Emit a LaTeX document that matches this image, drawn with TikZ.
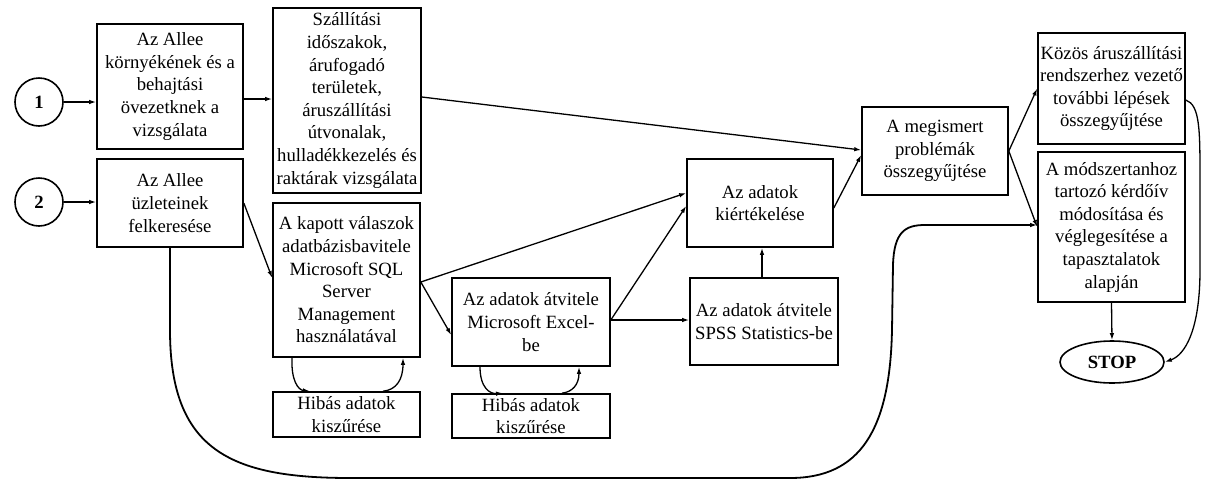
\documentclass[tikz,border=0pt]{standalone}
\usepackage{fontspec}
\setmainfont{Liberation Serif}
\newfontfamily\tnr{Liberation Serif}
\usetikzlibrary{arrows.meta,shapes.geometric}
\begin{document}
\begin{tikzpicture}[x=1pt,y=1pt,
  txt/.style={font=\tnr\fontsize{18.7pt}{22.6pt}\selectfont},
  box/.style={draw, line width=1.6pt, inner sep=0pt, align=center, txt},
  startc/.style={circle, draw, line width=1.6pt, minimum size=48pt, inner sep=0pt, font=\tnr\fontsize{18.7pt}{22.6pt}\selectfont\bfseries},
  conn/.style={line width=1.3pt, -{Latex[length=7pt,width=4.5pt]}},
  bigconn/.style={line width=1.8pt, -{Latex[length=7pt,width=4.5pt]}}]
\fill[white] (0,0) rectangle (1208,-483);
\useasboundingbox (0,0) rectangle (1208,-483);

% start circles
\node[startc] (c1) at (39,-102) {1};
\node[startc] (c2) at (39,-202) {2};

% boxes
\node[box, minimum width=146pt, minimum height=125pt] (A1) at (170,-86.5)
  {Az Allee\\környékének és a\\behajtási\\övezetknek a\\vizsgálata};
\node[box, minimum width=146pt, minimum height=88pt] (A2) at (170,-203)
  {Az Allee\\üzleteinek\\felkeresése};
\node[box, minimum width=148pt, minimum height=185pt] (B1) at (347,-100.5)
  {Szállítási\\időszakok,\\árufogadó\\területek,\\áruszállítási\\útvonalak,\\hulladékkezelés és\\raktárak vizsgálata};
\node[box, minimum width=147pt, minimum height=154pt] (B2) at (346.5,-280)
  {A kapott válaszok\\adatbázisbavitele\\Microsoft SQL\\Server\\Management\\használatával};
\node[box, minimum width=147pt, minimum height=45pt] (H1) at (346.5,-414.5)
  {Hibás adatok\\kiszűrése};
\node[box, minimum width=158pt, minimum height=88pt] (C) at (531,-322)
  {Az adatok átvitele\\Microsoft Excel-\\be};
\node[box, minimum width=158pt, minimum height=44pt] (H2) at (531,-416)
  {Hibás adatok\\kiszűrése};
\node[box, minimum width=146pt, minimum height=88pt] (D) at (760,-203)
  {Az adatok\\kiértékelése};
\node[box, minimum width=148pt, minimum height=87pt] (E) at (764,-321.5)
  {Az adatok átvitele\\SPSS Statistics-be};
\node[box, minimum width=146pt, minimum height=88pt] (F) at (935,-151)
  {A megismert\\problémák\\összegyűjtése};
\node[box, minimum width=147pt, minimum height=111pt] (G) at (1111.5,-88.5)
  {Közös áruszállítási\\rendszerhez vezető\\további lépések\\összegyűjtése};
\node[box, minimum width=147pt, minimum height=150pt] (H) at (1111.5,-227)
  {A módszertanhoz\\tartozó kérdőív\\módosítása és\\véglegesítése a\\tapasztalatok\\alapján};
\node[ellipse, draw, line width=1.6pt, minimum width=104pt, minimum height=42pt, inner sep=0pt,
  font=\tnr\fontsize{18.7pt}{22.6pt}\selectfont\bfseries] (stop) at (1112,-362) {STOP};

% straight connectors
\draw[conn] (c1.east) -- (c1.east -| A1.west);
\draw[conn] (c2.east) -- (c2.east -| A2.west);
\draw[conn] ([yshift=-12.5pt]A1.east) -- ([yshift=-12.5pt]A1.east -| B1.west);
\draw[conn] ([yshift=3.5pt]B1.east) -- ([yshift=1pt]F.west);
\draw[conn] (A2.east) -- ([yshift=2pt]B2.west);
\draw[conn] ([yshift=-2pt]B2.east) -- ([yshift=10pt]D.west);
\draw[conn] ([yshift=-2pt]B2.east) -- ([yshift=-13pt]C.west);
\draw[conn] ([yshift=2pt]C.east) -- ([yshift=-3pt]D.west);
\draw[conn] ([yshift=2pt]C.east) -- ([yshift=2pt]C.east -| E.west);
\draw[conn] ([xshift=-2pt]E.north) -- ([xshift=-2pt]E.north |- D.south);
\draw[conn] ([yshift=-5pt]D.east) -- ([yshift=-4pt]F.west);
\draw[conn] (F.east) -- (G.west);
\draw[conn] (F.east) -- (H.west);
\draw[conn] (H.south) -- (stop.north);
\draw[conn] ([yshift=-11.5pt]G.east) .. controls (1200,-105) and (1200,-130) .. (1200,-180)
  -- (1200,-270) .. controls (1200,-330) and (1185,-355) .. (stop.east);

% loops with the filter boxes
\draw[conn] ([xshift=-54.5pt]B2.south) .. controls (291,-380) and (298,-390) .. ([xshift=-36.5pt]H1.north);
\draw[conn] ([xshift=36.5pt]H1.north) .. controls (396,-390) and (403,-380) .. ([xshift=56.5pt]B2.south);
\draw[conn] ([xshift=-51pt]C.south) .. controls (480,-388) and (490,-394) .. ([xshift=-28pt]H2.north);
\draw[conn] ([xshift=31pt]H2.north) .. controls (572,-392) and (579,-385) .. ([xshift=48pt]C.south);

% long bottom curve
\draw[bigconn] (A2.south) -- (170,-330) .. controls (170,-450) and (230,-478) .. (350,-478)
  -- (790,-478) .. controls (860,-478) and (890,-430) .. (892,-330)
  -- (893,-265) .. controls (894,-232) and (905,-225) .. (925,-225) -- ([yshift=2pt]H.west);
\end{tikzpicture}
\end{document}
